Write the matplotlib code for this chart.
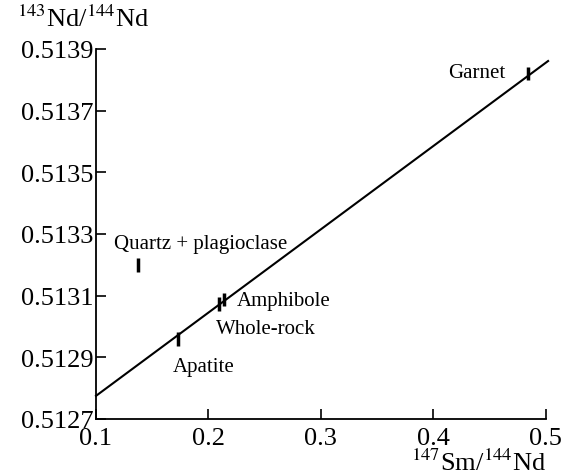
import matplotlib
matplotlib.use("Agg")
import matplotlib.pyplot as plt

plt.rcParams["font.family"] = "Liberation Serif"
plt.rcParams["mathtext.fontset"] = "stix"

# ── Data ────────────────────────────────────────────────────────────────
samples = ["Quartz + plagioclase", "Apatite", "Whole-rock", "Amphibole", "Garnet"]
sm_nd = [0.137, 0.173, 0.209, 0.214, 0.484]
nd_nd = [0.51320, 0.51296, 0.513073, 0.513088, 0.51382]
nd_err = [0.000022, 0.000022, 0.000022, 0.000022, 0.000022]

# isochron end points
iso_x = [0.1, 0.502]
iso_y = [0.512775, 0.513861]

xticks = [0.1, 0.2, 0.3, 0.4, 0.5]
yticks = [0.5127, 0.5129, 0.5131, 0.5133, 0.5135, 0.5137, 0.5139]

# label offsets in points (dx, dy, ha)
label_pos = {
    "Quartz + plagioclase": (-17, 15, "left"),
    "Apatite": (-4, -20, "left"),
    "Whole-rock": (-2, -18, "left"),
    "Amphibole": (9, -1, "left"),
    "Garnet": (-37, 1, "center"),
}

fig = plt.figure(figsize=(5.68, 4.77), dpi=100)
ax = fig.add_axes([0.169, 0.1195, 0.792, 0.7757])

ax.plot(iso_x, iso_y, color="black", lw=1.5, clip_on=False)
ax.errorbar(sm_nd, nd_nd, yerr=nd_err, fmt="none", ecolor="black",
            elinewidth=2.5, capsize=0, clip_on=False)

for name, x, y in zip(samples, sm_nd, nd_nd):
    dx, dy, ha = label_pos[name]
    ax.annotate(name, xy=(x, y), xytext=(dx, dy), textcoords="offset points",
                ha=ha, va="center", fontsize=15)

ax.set_xlim(0.1, 0.5)
ax.set_ylim(0.5127, 0.5139)
ax.set_xticks(xticks)
ax.set_xticklabels([f"{t:.1f}" for t in xticks])
ax.set_yticks(yticks)
ax.set_yticklabels([f"{t:.4f}" for t in yticks])
ax.tick_params(direction="in", length=7, width=1.2, labelsize=19)
ax.tick_params(axis="y", pad=2)
ax.tick_params(axis="x", pad=6)

for side in ("top", "right"):
    ax.spines[side].set_visible(False)
for side in ("left", "bottom"):
    ax.spines[side].set_linewidth(1.3)

fig.text(0.03, 0.96, r"$^{143}$Nd/$^{144}$Nd", fontsize=19, ha="left", va="center")
fig.text(0.962, 0.03, r"$^{147}$Sm/$^{144}$Nd", fontsize=19, ha="right", va="center")

fig.savefig("out.png", dpi=100)
